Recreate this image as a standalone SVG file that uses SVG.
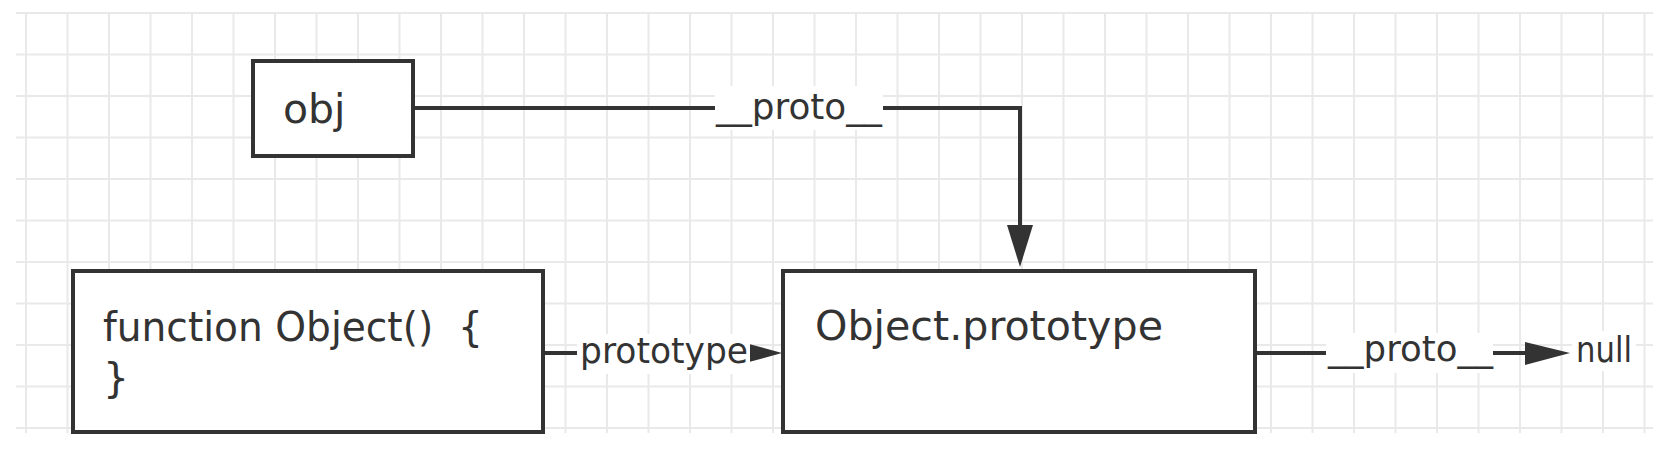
<svg xmlns="http://www.w3.org/2000/svg" width="1670" height="460" viewBox="0 0 1670 460">
<style>
.grid{fill:none;stroke:#e9e9e9;stroke-width:2}
.box{fill:#fff;stroke:#333;stroke-width:4}
.t{font-family:"DejaVu Sans","Liberation Sans",sans-serif;fill:#333;white-space:pre}
.big{font-size:41px}
.lbl{font-size:35px}
.line{fill:none;stroke:#333;stroke-width:4}
.head{fill:#333;stroke:none}
.bg{fill:#fff}
</style>
<rect x="0" y="0" width="1670" height="460" fill="#fff"/>
<g id="grid">
<path class="grid" d="M16,13H1653M16,54.5H1653M16,96H1653M16,137.5H1653M16,179H1653M16,220.5H1653M16,262H1653M16,303.5H1653M16,345H1653M16,386.5H1653M16,428H1653
M26,13V433M67.5,13V433M109,13V433M150.5,13V433M192,13V433M233.5,13V433M275,13V433M316.5,13V433M358,13V433M399.5,13V433M441,13V433M482.5,13V433M524,13V433M565.5,13V433M607,13V433M648.5,13V433M690,13V433M731.5,13V433M773,13V433M814.5,13V433M856,13V433M897.5,13V433M939,13V433M980.5,13V433M1022,13V433M1063.5,13V433M1105,13V433M1146.5,13V433M1188,13V433M1229.5,13V433M1271,13V433M1312.5,13V433M1354,13V433M1395.5,13V433M1437,13V433M1478.5,13V433M1520,13V433M1561.5,13V433M1603,13V433M1644.5,13V433"/>
</g>
<g id="connectors">
<path class="line" d="M413,108H1020V228"/>
<polygon class="head" points="1007,225 1033,225 1020,267"/>
<rect class="bg" x="715" y="86" width="168" height="44"/>
<text class="t lbl" x="716" y="119" textLength="166" lengthAdjust="spacingAndGlyphs">__proto__</text>

<path class="line" d="M545,353H752"/>
<polygon class="head" points="749,344 749,362 782,353"/>
<rect class="bg" x="577" y="334" width="173" height="40"/>
<text class="t lbl" x="580" y="363" textLength="168" lengthAdjust="spacingAndGlyphs">prototype</text>

<path class="line" d="M1257,353H1528"/>
<polygon class="head" points="1525,342 1525,365 1570,353"/>
<rect class="bg" x="1326" y="333" width="167" height="40"/>
<text class="t lbl" x="1328" y="361" textLength="165" lengthAdjust="spacingAndGlyphs">__proto__</text>
<rect class="bg" x="1572" y="331" width="64" height="40"/>
<text class="t lbl" x="1576" y="362" textLength="56" lengthAdjust="spacingAndGlyphs">null</text>
</g>
<g id="node-obj">
<rect class="box" x="253" y="61" width="160" height="95"/>
<text class="t big" x="283" y="123">obj</text>
</g>
<g id="node-function-object">
<rect class="box" x="73" y="271" width="470" height="161"/>
<text class="t big" x="103" y="341" textLength="380" lengthAdjust="spacingAndGlyphs">function Object()  {</text>
<text class="t big" x="103" y="392">}</text>
</g>
<g id="node-object-prototype">
<rect class="box" x="783" y="271" width="472" height="161"/>
<text class="t big" x="815" y="340" textLength="348" lengthAdjust="spacingAndGlyphs">Object.prototype</text>
</g>
</svg>
